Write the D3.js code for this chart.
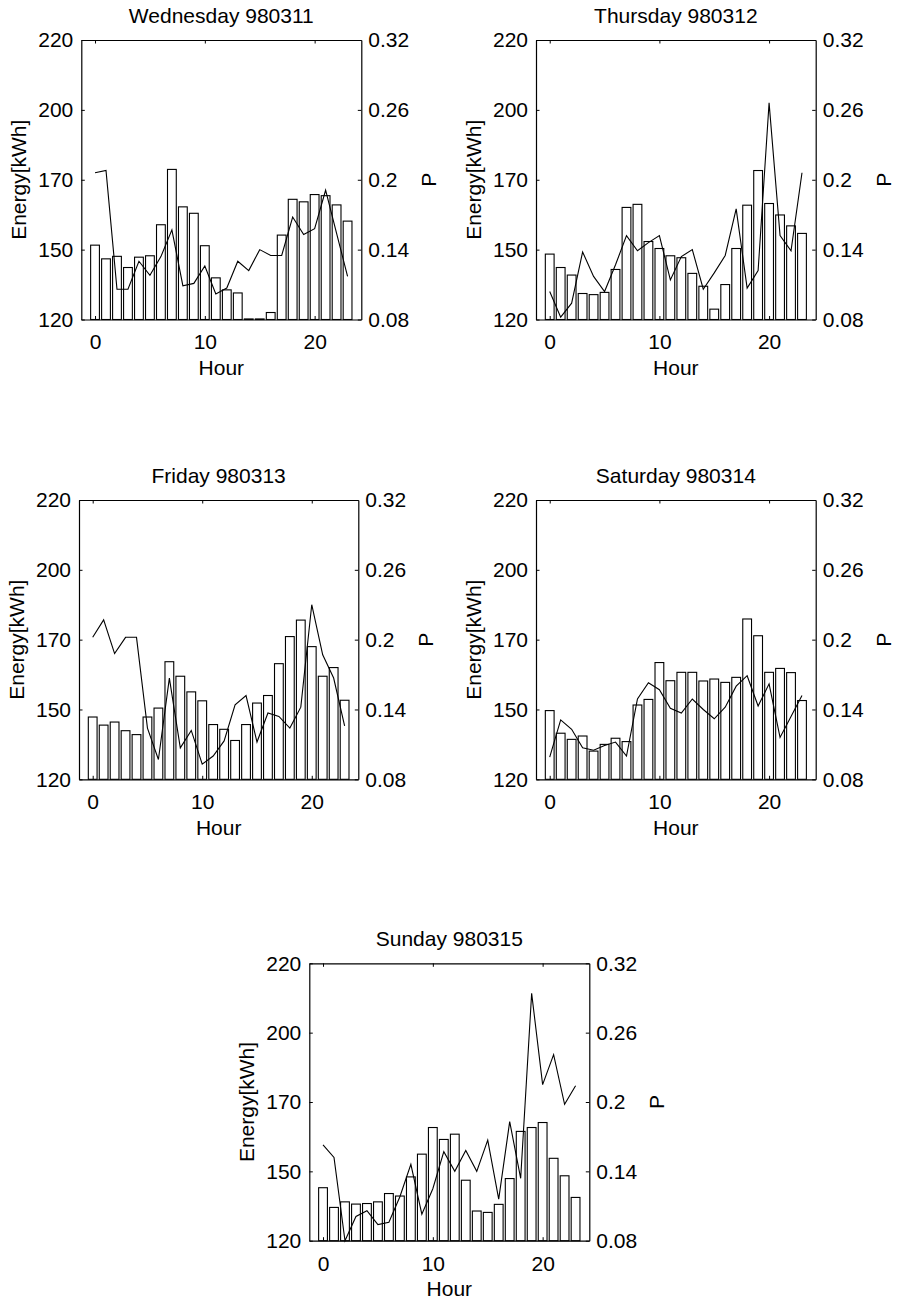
<!DOCTYPE html>
<html>
<head>
<meta charset="utf-8">
<script src="https://cdn.jsdelivr.net/npm/d3@7"></script>
<style>
    body { margin: 0; background: #fff; }
    svg text { font-family: "Liberation Sans", Arial, sans-serif; fill: #000; }
</style>
</head>
<body>
<svg id="fig" width="897" height="1301"></svg>
<script>
// hours on the x axis
const hours = [0, 1, 2, 3, 4, 5, 6, 7, 8, 9, 10, 11, 12, 13, 14, 15, 16, 17, 18, 19, 20, 21, 22, 23];

const dayTitles = ["Wednesday 980311", "Thursday 980312", "Friday 980313", "Saturday 980314", "Sunday 980315"];

// energy per hour (bars, left axis)
const wedEnergy = [146.6, 141.7, 142.6, 138.6, 142.3, 142.8, 153.9, 173.7, 160.3, 158.0, 146.4, 134.9,
                   130.6, 129.5, 120.2, 120.2, 122.5, 150.2, 163.0, 162.1, 164.7, 164.3, 161.0, 155.2];
const thuEnergy = [143.4, 138.6, 135.9, 129.3, 128.9, 129.7, 137.9, 160.1, 161.2, 147.9, 145.4, 142.8,
                   142.1, 136.5, 131.9, 123.7, 132.5, 145.4, 160.9, 173.3, 161.5, 157.4, 153.5, 150.8];
const friEnergy = [142.3, 139.4, 140.5, 137.4, 136.0, 142.3, 145.5, 162.1, 156.9, 151.3, 148.1, 139.6,
                   137.9, 133.9, 139.6, 147.3, 150.0, 161.4, 171.1, 177.0, 167.5, 156.9, 160.0, 148.3];
const satEnergy = [144.6, 136.5, 134.3, 135.5, 130.1, 132.5, 134.7, 133.5, 146.6, 148.6, 161.8, 155.3,
                   158.3, 158.3, 155.2, 155.9, 154.7, 156.5, 177.4, 171.4, 158.3, 159.7, 158.2, 148.2];
const sunEnergy = [139.1, 132.0, 134.0, 133.2, 133.4, 134.0, 137.0, 136.1, 143.0, 151.2, 160.8, 156.5,
                   158.4, 141.8, 130.7, 130.2, 133.1, 142.4, 159.4, 160.8, 162.6, 149.7, 143.4, 135.6];

// P per hour (line, right axis)
const wedP = [0.206, 0.208, 0.106, 0.106, 0.130, 0.118, 0.134, 0.157, 0.109, 0.111, 0.126, 0.102,
              0.107, 0.130, 0.122, 0.140, 0.135, 0.135, 0.168, 0.153, 0.158, 0.191, 0.154, 0.117];
const thuP = [0.104, 0.082, 0.094, 0.138, 0.117, 0.104, 0.127, 0.152, 0.139, 0.146, 0.152, 0.114,
              0.134, 0.140, 0.106, 0.120, 0.135, 0.175, 0.107, 0.122, 0.266, 0.152, 0.139, 0.206];
const friP = [0.202, 0.217, 0.188, 0.202, 0.202, 0.124, 0.097, 0.167, 0.107, 0.122, 0.093, 0.100,
              0.113, 0.144, 0.152, 0.112, 0.137, 0.134, 0.124, 0.142, 0.230, 0.187, 0.167, 0.126];
const satP = [0.099, 0.131, 0.123, 0.107, 0.105, 0.109, 0.112, 0.100, 0.149, 0.163, 0.157, 0.141,
              0.137, 0.149, 0.140, 0.132, 0.142, 0.160, 0.169, 0.143, 0.162, 0.116, 0.134, 0.152];
const sunP = [0.163, 0.152, 0.080, 0.101, 0.106, 0.094, 0.096, 0.118, 0.146, 0.103, 0.125, 0.157,
              0.140, 0.158, 0.140, 0.167, 0.116, 0.183, 0.134, 0.294, 0.215, 0.241, 0.198, 0.214];

// tick values / labels
const energyTickPos = [120, 145, 170, 195, 220];
const energyTickLabels = ["120", "150", "170", "200", "220"];
const pTicks = [0.08, 0.14, 0.2, 0.26, 0.32];
const hourTicks = [0, 10, 20];

const energyByDay = [wedEnergy, thuEnergy, friEnergy, satEnergy, sunEnergy];
const pByDay = [wedP, thuP, friP, satP, sunP];

// panel boxes (plot area) in pixels
const panels = [
    {left: 81.3, right: 361.3, top: 40, bottom: 319.5},
    {left: 536, right: 815.7, top: 40, bottom: 319.5},
    {left: 79, right: 358.3, top: 500, bottom: 779.3},
    {left: 536, right: 815.7, top: 500, bottom: 779.3},
    {left: 309.3, right: 589.3, top: 963.3, bottom: 1240.7}
];

const fontSize = 21;
const svg = d3.select("#fig");

function styleAxis(g) {
    g.attr("font-family", '"Liberation Sans", Arial, sans-serif')
        .attr("font-size", fontSize);
    g.select(".domain").attr("stroke", "#000").attr("stroke-width", 1.2);
    g.selectAll(".tick line").attr("stroke", "#000").attr("stroke-width", 1);
}

function drawPanel(p, i) {
    const energy = energyByDay[i];
    const pvals = pByDay[i];

    const x = d3.scaleLinear().domain([-1.25, 24.25]).range([p.left, p.right]);
    const yE = d3.scaleLinear().domain([120, 220]).range([p.bottom, p.top]);
    const yP = d3.scaleLinear().domain([0.08, 0.32]).range([p.bottom, p.top]);

    const g = svg.append("g").attr("class", "panel");

    // bars
    g.selectAll("rect.bar")
        .data(hours)
        .enter()
        .append("rect")
        .attr("class", "bar")
        .attr("x", (d) => x(d - 0.4))
        .attr("width", (d) => x(d + 0.4) - x(d - 0.4))
        .attr("y", (d, j) => yE(energy[j]))
        .attr("height", (d, j) => yE(120) - yE(energy[j]))
        .attr("fill", "#fff")
        .attr("stroke", "#000")
        .attr("stroke-width", 1.1);

    // P line
    const line = d3.line()
        .x((d) => x(d))
        .y((d, j) => yP(pvals[j]));
    g.append("path")
        .datum(hours)
        .attr("d", line)
        .attr("fill", "none")
        .attr("stroke", "#000")
        .attr("stroke-width", 1.1);

    // axes
    g.append("g")
        .attr("transform", "translate(0," + p.bottom + ")")
        .call(d3.axisBottom(x).tickValues(hourTicks).tickSizeInner(-3.5).tickSizeOuter(0).tickPadding(15))
        .call(styleAxis);

    g.append("g")
        .attr("transform", "translate(0," + p.top + ")")
        .call(d3.axisTop(x).tickValues(hourTicks).tickFormat("").tickSizeInner(-3.5).tickSizeOuter(0))
        .call(styleAxis);

    g.append("g")
        .attr("transform", "translate(" + p.left + ",0)")
        .call(d3.axisLeft(yE).tickValues(energyTickPos)
            .tickFormat((d, k) => energyTickLabels[k])
            .tickSizeInner(-3.5).tickSizeOuter(0).tickPadding(8))
        .call(styleAxis);

    g.append("g")
        .attr("transform", "translate(" + p.right + ",0)")
        .call(d3.axisRight(yP).tickValues(pTicks).tickFormat(d3.format("")).tickSizeInner(-3.5).tickSizeOuter(0).tickPadding(7))
        .call(styleAxis);

    const midY = (p.top + p.bottom) / 2;
    const midX = (p.left + p.right) / 2;

    // title
    g.append("text")
        .attr("x", midX)
        .attr("y", p.top - 17.5)
        .attr("text-anchor", "middle")
        .attr("font-size", fontSize)
        .text(dayTitles[i]);

    // x label
    g.append("text")
        .attr("x", midX)
        .attr("y", p.bottom + 55.5)
        .attr("text-anchor", "middle")
        .attr("font-size", fontSize)
        .text("Hour");

    // left label
    g.append("text")
        .attr("transform", "translate(" + (p.left - 55) + "," + midY + ") rotate(-90)")
        .attr("text-anchor", "middle")
        .attr("font-size", fontSize)
        .text("Energy[kWh]");

    // right label
    g.append("text")
        .attr("transform", "translate(" + (p.right + 75) + "," + midY + ") rotate(-90)")
        .attr("text-anchor", "middle")
        .attr("font-size", fontSize)
        .text("P");
}

panels.forEach(drawPanel);
</script>
</body>
</html>
